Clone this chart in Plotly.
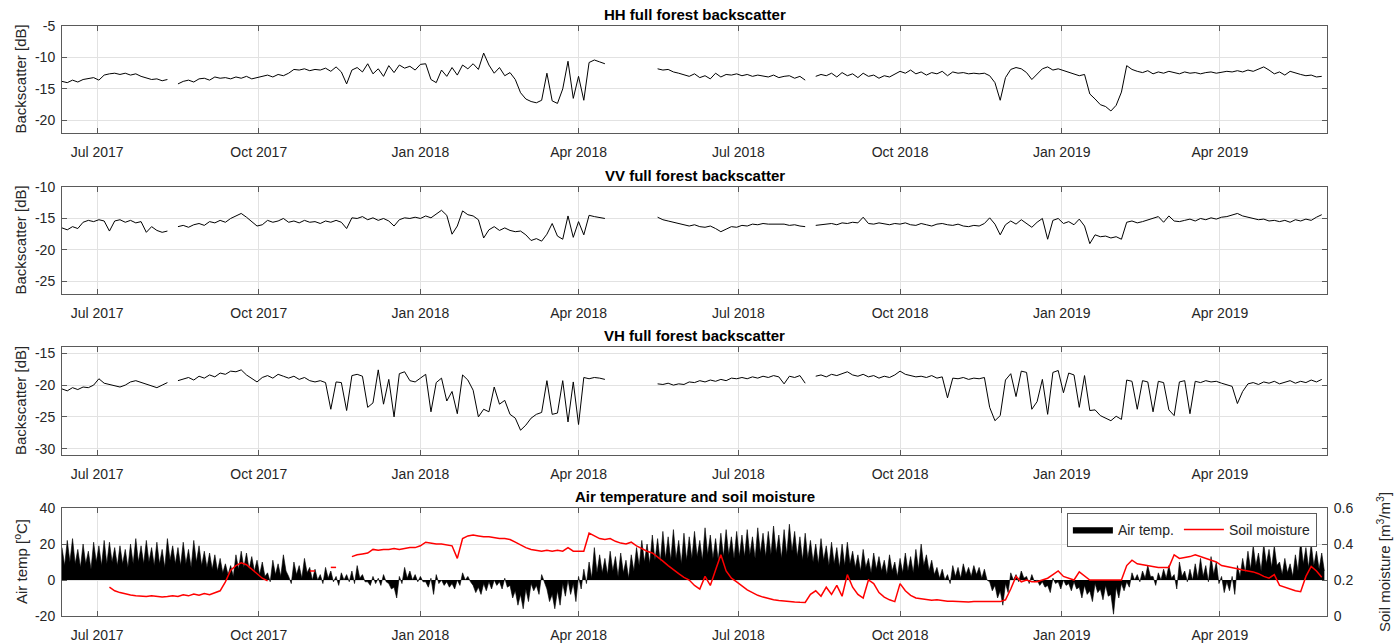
import pandas as pd
import plotly.graph_objects as go

# ---------------- data ----------------
START = "2017-06-11"
STEP_DAYS = 3
X_START = "2017-06-11"
X_END = "2019-06-01"
TICK_DATES = ["2017-07-01", "2017-10-01", "2018-01-01", "2018-04-01",
              "2018-07-01", "2018-10-01", "2019-01-01", "2019-04-01"]
TICK_LABELS = ["Jul 2017", "Oct 2017", "Jan 2018", "Apr 2018",
               "Jul 2018", "Oct 2018", "Jan 2019", "Apr 2019"]
N = None

HH = [
    -13.8, -14.0, -13.6, -13.9, -13.5, -13.4, -13.2, -13.6, -12.8, -12.6,
    -12.5, -12.7, -12.5, -12.8, -12.6, -13.0, -13.2, -13.5, -13.4, -13.7,
    -13.5, N, -14.2, -13.8, -13.6, -13.9, -13.4, -13.3, -13.6, -13.1,
    -13.3, -13.2, -13.4, -13.1, -13.3, -13.0, -13.4, -13.2, -13.0, -12.8,
    -13.1, -12.7, -12.9, -12.5, -11.9, -12.0, -11.8, -12.1, -11.9, -12.0,
    -11.7, -12.2, -11.5, -12.3, -14.2, -12.0, -11.6, -12.3, -11.0, -12.6,
    -11.8, -13.0, -11.3, -12.4, -11.2, -11.7, -11.4, -12.0, -11.1, -11.0,
    -13.5, -14.0, -12.0, -13.0, -11.6, -12.8, -11.2, -11.8, -11.0, -11.9,
    -9.3, -11.2, -12.5, -11.6, -12.9, -12.4, -13.5, -15.6, -16.6, -17.0,
    -17.2, -16.8, -12.5, -16.9, -17.3, -15.0, -10.6, -16.5, -13.0, -16.8,
    -10.8, -10.4, -10.7, -11.0, N, N, N, N, N, N,
    N, N, N, -11.8, -12.0, -11.9, -12.3, -12.5, -12.8, -13.0,
    -12.6, -13.2, -12.9, -13.4, -12.5, -13.1, -12.7, -12.8, -12.6, -12.9,
    -12.7, -13.0, -12.8, -12.9, -13.1, -12.8, -13.2, -13.0, -12.9, -13.3,
    -13.0, -13.6, N, -13.0, -12.7, -12.9, -12.5, -13.1, -12.4, -12.9,
    -12.6, -13.2, -12.5, -13.0, -12.8, -13.3, -12.9, -13.1, -12.7, -12.2,
    -12.5, -12.0, -12.6, -12.3, -12.8, -12.4, -12.6, -12.2, -12.9, -12.3,
    -12.5, -12.4, -12.6, -12.5, -12.6, -12.5, -12.9, -14.0, -16.8, -13.2,
    -11.9, -11.6, -11.8, -12.4, -13.5, -12.6, -11.8, -11.5, -12.0, -11.8,
    -12.1, -12.4, -12.6, -12.9, -12.7, -15.8, -16.6, -17.5, -17.8, -18.5,
    -17.6, -15.5, -11.3, -11.9, -12.2, -12.4, -12.1, -12.6, -12.3, -12.5,
    -12.2, -12.4, -12.6, -12.3, -12.5, -12.4, -12.6, -12.4, -12.3, -12.5,
    -12.4, -12.2, -12.3, -12.1, -12.3, -12.0, -12.2, -11.9, -11.5, -12.0,
    -12.6, -12.3, -12.8, -12.2, -12.5, -12.7, -12.9, -12.8, -13.1, -13.0,
]

VV = [
    -16.5, -16.8, -16.3, -16.6, -15.6, -15.3, -15.5, -15.2, -15.4, -17.0,
    -15.4, -15.2, -15.6, -15.3, -15.7, -15.5, -17.2, -16.3, -16.9, -17.2,
    -17.0, N, -16.3, -16.1, -16.4, -16.0, -15.8, -16.1, -15.5, -15.7,
    -15.3, -15.6, -15.0, -14.6, -14.2, -14.8, -15.5, -16.2, -16.0, -15.3,
    -15.6, -15.4, -15.0, -15.6, -15.4, -15.7, -15.3, -15.6, -15.5, -15.8,
    -15.4, -15.6, -15.3, -15.6, -16.6, -14.9, -15.0, -14.7, -15.2, -14.9,
    -15.3, -15.0, -15.4, -16.2, -15.2, -14.9, -15.0, -14.8, -15.0, -14.6,
    -14.9, -14.3, -13.7, -14.5, -17.5, -16.2, -13.8, -14.4, -14.6, -15.2,
    -18.1, -16.8, -16.3, -16.9, -16.5, -16.9, -17.1, -17.0, -17.6, -18.5,
    -18.2, -18.6, -17.5, -15.8, -17.8, -18.3, -14.6, -18.0, -15.5, -17.6,
    -14.5, -14.7, -14.9, -15.0, N, N, N, N, N, N,
    N, N, N, -14.8, -15.2, -15.4, -15.6, -15.8, -15.9, -16.2,
    -16.0, -16.3, -16.4, -16.2, -16.6, -17.1, -16.7, -16.3, -16.4, -16.1,
    -16.2, -15.9, -16.0, -15.8, -15.9, -15.9, -16.0, -15.9, -16.1, -16.0,
    -16.2, -16.3, N, -16.1, -16.0, -15.9, -15.8, -16.0, -15.7, -15.8,
    -15.6, -15.7, -14.8, -15.8, -15.9, -15.7, -15.8, -16.0, -15.8, -15.9,
    -15.7, -16.0, -16.1, -15.8, -16.0, -16.2, -15.9, -15.8, -16.0, -16.1,
    -15.9, -16.2, -16.3, -16.1, -16.2, -15.8, -14.9, -15.9, -17.6, -16.0,
    -15.4, -15.9, -15.2, -15.8, -16.4, -15.6, -15.0, -18.3, -15.3, -15.0,
    -15.8, -15.5, -16.0, -15.1, -16.2, -19.0, -17.6, -17.9, -17.8, -18.1,
    -17.9, -18.3, -15.6, -15.4, -15.7, -15.5, -15.2, -15.0, -14.7, -15.6,
    -14.6, -15.4, -15.5, -15.3, -15.1, -15.4, -15.0, -15.2, -14.9, -15.1,
    -14.8, -14.7, -14.4, -14.2, -14.6, -14.8, -15.0, -15.2, -15.1, -15.4,
    -15.3, -15.5, -15.3, -15.6, -15.2, -15.4, -15.1, -15.3, -14.8, -14.4,
]

VH = [
    -20.6, -20.9, -20.4, -20.7, -20.3, -20.4, -20.0, -19.0, -19.7, -19.9,
    -20.1, -20.3, -20.0, -19.5, -19.3, -19.6, -19.8, -20.1, -20.4, -20.0,
    -19.6, N, -19.3, -19.1, -18.8, -19.2, -18.6, -18.9, -18.4, -18.7,
    -18.1, -18.3, -17.8, -17.9, -17.6, -18.4, -19.0, -19.5, -18.8, -18.5,
    -18.9, -18.3, -18.6, -18.9, -18.6, -19.1, -18.8, -19.3, -19.5, -19.3,
    -19.6, -23.8, -19.5, -19.6, -24.0, -18.5, -18.3, -18.6, -23.5, -22.8,
    -17.6, -23.0, -19.1, -25.0, -18.2, -17.9, -19.3, -19.5, -18.9, -18.3,
    -24.2, -19.6, -18.9, -22.5, -21.0, -24.5, -18.4, -19.2, -20.8, -25.0,
    -23.8, -24.2, -20.3, -23.0, -22.4, -24.6, -25.2, -27.1, -26.3, -25.2,
    -24.6, -24.3, -19.3, -24.6, -24.4, -19.3, -25.8, -19.5, -26.2, -18.8,
    -19.0, -18.8, -18.9, -19.1, N, N, N, N, N, N,
    N, N, N, -19.8, -19.9, -19.7, -20.0, -19.8, -19.9, -19.5,
    -19.6, -19.3, -19.5, -19.2, -19.4, -19.1, -19.3, -18.9, -19.0, -18.8,
    -19.0, -18.7, -18.9, -18.6, -18.8, -18.5, -18.7, -19.8, -18.6, -18.8,
    -18.5, -19.7, N, -18.6, -18.4, -18.7, -18.3, -18.5, -18.2, -17.9,
    -18.4, -18.6, -18.3, -18.7, -18.5, -18.9, -18.6, -18.8, -18.4, -17.8,
    -18.3, -18.5, -18.7, -18.6, -18.8, -18.5, -18.9, -18.7, -22.0, -18.9,
    -19.0, -18.8, -19.1, -18.9, -19.0, -18.8, -23.5, -25.6, -24.8, -19.2,
    -18.2, -21.8, -17.8, -18.0, -23.8, -22.6, -19.1, -24.6, -18.0, -17.7,
    -21.2, -18.1, -18.4, -23.5, -18.5, -24.0, -23.9, -24.8, -25.2, -25.6,
    -24.9, -25.4, -19.2, -19.4, -23.8, -19.3, -19.5, -24.2, -19.4, -19.6,
    -23.9, -24.8, -19.5, -19.3, -24.5, -19.4, -19.6, -19.3, -19.5, -19.4,
    -19.7, -19.9, -20.2, -22.9, -21.0, -19.8, -19.6, -19.9, -19.5, -19.7,
    -19.4, -19.8, -19.5, -19.3, -19.7, -19.4, -19.6, -19.2, -19.5, -19.1,
]

TEMP_MAX = [
    18, 22, 23, 17, 20, 16, 21, 19, 22, 21,
    18, 19, 17, 20, 23, 19, 22, 18, 21, 17,
    23, 19, 18, 21, 17, 22, 19, 16, 15, 14,
    12, 9, 8, 14, 16, 15, 13, 11, 10, 4,
    11, 9, 14, 2, 10, 8, 12, 7, 6, 3,
    7, 5, 2, 4, 3, 5, 8, 3, -1, 2,
    1, 3, -2, -4, 2, 7, 5, 3, 2, -1,
    1, 3, 0, -1, -2, 0, 4, 2, -3, -4,
    -2, -1, 0, -1, 1, -3, -6, -8, -5, -2,
    -3, 3, -5, -8, -6, -2, 0, -2, 2, 6,
    10, 18, 14, 12, 16, 13, 15, 11, 14, 18,
    22, 20, 25, 23, 27, 24, 28, 22, 26, 24,
    27, 22, 29, 25, 23, 26, 28, 24, 27, 25,
    28, 24, 29, 26, 27, 30, 25, 28, 31, 27,
    24, 26, 22, 20, 23, 19, 21, 18, 20, 21,
    16, 14, 17, 12, 15, 13, 11, 14, 10, 12,
    15, 13, 17, 20, 14, 11, 7, 6, 3, 8,
    7, 9, 7, 8, 7, 6, -1, -3, -6, -2,
    4, 3, 5, 2, 3, 0, -1, -3, 1, -1,
    0, -2, -1, -4, -3, -6, -2, -5, -3, -8,
    -4, -2, -1, 4, 3, 5, 8, 2, 4, 6,
    8, 3, 10, 5, 6, 9, 12, 8, 13, 10,
    2, -1, 2, 8, 12, 16, 19, 15, 20, 17,
    19, 10, 12, 9, 14, 22, 18, 20, 16, 15,
]

TEMP_MIN = [
    8, 10, 9, 7, 9, 6, 10, 8, 9, 10,
    8, 9, 7, 9, 10, 9, 10, 8, 9, 7,
    11, 9, 8, 9, 7, 10, 8, 7, 6, 5,
    4, 3, 2, 6, 7, 6, 5, 3, 2, -1,
    3, 2, 5, -2, 3, 1, 4, 0, 0, -2,
    1, -1, -3, 0, -1, -2, 1, -1, -3, -2,
    -3, -1, -5, -10, -2, 1, 0, -1, -1, -4,
    -8, -2, -3, -4, -5, -3, 0, -1, -7, -8,
    -6, -5, -3, -5, -4, -10, -14, -16, -12, -6,
    -8, -1, -12, -16, -14, -9, -8, -12, -5, -2,
    1, 4, 4, 3, 5, 2, 4, 1, 5, 8,
    10, 9, 11, 10, 12, 11, 12, 9, 11, 12,
    13, 11, 14, 12, 11, 13, 14, 12, 13, 13,
    14, 12, 15, 13, 14, 15, 12, 14, 16, 13,
    11, 12, 10, 9, 11, 8, 9, 7, 8, 9,
    7, 5, 7, 4, 6, 5, 3, 5, 2, 4,
    5, 4, 6, 8, 5, 3, 1, 0, -2, 2,
    1, 3, 2, 3, 1, 0, -6, -10, -14, -7,
    0, -1, 1, -2, -1, -3, -4, -7, -2, -5,
    -3, -6, -5, -10, -8, -12, -7, -11, -9, -19,
    -10, -6, -4, 0, -1, 1, 2, -3, 0, 1,
    1, -5, 2, -1, 0, 1, 2, -1, 3, -2,
    -7, -6, -8, 2, 4, 6, 8, 5, 9, 7,
    8, 3, 4, 2, 5, 9, 7, 8, 6, 5,
]

SOIL = [
    N, N, N, N, N, N, N, N, N, 0.16,
    0.14, 0.13, 0.122, 0.117, 0.113, 0.11, 0.108, 0.112, 0.108, 0.106,
    0.108, 0.112, 0.108, 0.118, 0.112, 0.122, 0.115, 0.125, 0.118, 0.13,
    0.14, 0.19, 0.255, 0.28, 0.295, 0.285, 0.26, 0.235, 0.21, 0.195,
    N, N, N, N, N, N, N, 0.25, 0.25, N,
    N, 0.27, 0.27, N, N, 0.33, 0.34, 0.345, 0.35, 0.37,
    0.365, 0.37, 0.37, 0.375, 0.37, 0.375, 0.38, 0.38, 0.39, 0.41,
    0.405, 0.40, 0.40, 0.395, 0.39, 0.32, 0.43, 0.445, 0.45, 0.445,
    0.44, 0.44, 0.435, 0.43, 0.43, 0.425, 0.41, 0.395, 0.38, 0.37,
    0.365, 0.36, 0.365, 0.36, 0.365, 0.36, 0.38, 0.36, 0.36, 0.36,
    0.46, 0.445, 0.43, 0.425, 0.43, 0.415, 0.405, 0.40, 0.41, 0.39,
    0.375, 0.36, 0.35, 0.33, 0.305, 0.28, 0.255, 0.235, 0.215, 0.20,
    0.17, 0.15, 0.22, 0.17, 0.255, 0.34, 0.25, 0.21, 0.19, 0.165,
    0.145, 0.13, 0.115, 0.105, 0.097, 0.09, 0.086, 0.082, 0.08, 0.078,
    0.076, 0.075, 0.12, 0.14, 0.11, 0.16, 0.12, 0.17, 0.11, 0.23,
    0.16, 0.12, 0.10, 0.20, 0.18, 0.13, 0.105, 0.09, 0.08, 0.18,
    0.14, 0.115, 0.10, 0.095, 0.09, 0.088, 0.09, 0.085, 0.082, 0.082,
    0.08, 0.08, 0.078, 0.08, 0.08, 0.078, 0.08, 0.08, 0.08, 0.09,
    0.15, 0.22, 0.19, 0.20, 0.19, 0.19, 0.20, 0.21, 0.23, 0.25,
    0.22, 0.21, 0.20, 0.245, 0.22, 0.20, 0.20, 0.20, 0.20, 0.20,
    0.20, 0.20, 0.28, 0.31, 0.29, 0.285, 0.28, 0.275, 0.27, 0.27,
    0.27, 0.34, 0.32, 0.325, 0.33, 0.34, 0.33, 0.32, 0.31, 0.30,
    0.28, 0.275, 0.27, 0.262, 0.255, 0.25, 0.245, 0.235, 0.22, 0.21,
    0.23, 0.17, 0.16, 0.15, 0.14, 0.135, 0.22, 0.275, 0.25, 0.215,
]

for name, arr in [("HH", HH), ("VV", VV), ("VH", VH), ("TEMP_MAX", TEMP_MAX),
                  ("TEMP_MIN", TEMP_MIN), ("SOIL", SOIL)]:
    assert len(arr) == 240, (name, len(arr))

dates = pd.date_range(START, periods=len(HH), freq=f"{STEP_DAYS}D")

# air temperature drawn as an area: each sample's max followed by its min
tx, ty = [], []
for d, hi, lo in zip(dates, TEMP_MAX, TEMP_MIN):
    tx += [d, d + pd.Timedelta(hours=36)]
    ty += [hi, lo]

# ---------------- styling ----------------
FONT = "Liberation Sans, Arial, Helvetica, sans-serif"
AXC = "#5a5a5a"
GRID = "#e2e2e2"
TXT = "#262626"
H = 644.0


def dom(top_px, bot_px):
    return [1 - bot_px / H, 1 - top_px / H]


DOMS = [dom(26, 133), dom(187, 294), dom(347, 455), dom(508, 616)]

fig = go.Figure()
fig.add_trace(go.Scatter(x=dates, y=HH, mode="lines", line=dict(color="black", width=1),
                         xaxis="x", yaxis="y", showlegend=False))
fig.add_trace(go.Scatter(x=dates, y=VV, mode="lines", line=dict(color="black", width=1),
                         xaxis="x2", yaxis="y2", showlegend=False))
fig.add_trace(go.Scatter(x=dates, y=VH, mode="lines", line=dict(color="black", width=1),
                         xaxis="x3", yaxis="y3", showlegend=False))
fig.add_trace(go.Scatter(x=tx, y=ty, mode="lines", fill="tozeroy", fillcolor="black",
                         line=dict(color="black", width=0.6), name="Air temp.",
                         xaxis="x4", yaxis="y4"))
fig.add_trace(go.Scatter(x=dates, y=SOIL, mode="lines", line=dict(color="#ff0000", width=1.5),
                         name="Soil moisture", xaxis="x4", yaxis="y5"))

xcommon = dict(type="date", range=[X_START, X_END], tickvals=TICK_DATES, ticktext=TICK_LABELS,
               ticks="inside", ticklen=5, tickcolor=AXC, showline=True, linecolor=AXC,
               linewidth=1, mirror="ticks", showgrid=True, gridcolor=GRID, gridwidth=1,
               zeroline=False, tickfont=dict(size=14, color=TXT, family=FONT),
               ticklabelstandoff=6, domain=[0, 1], automargin=False)


def ycommon(rng, vals, d, mirror="ticks"):
    return dict(range=rng, tickvals=vals, ticktext=[str(v) for v in vals], domain=d,
                ticks="inside", ticklen=5, tickcolor=AXC, showline=True, linecolor=AXC,
                linewidth=1, mirror=mirror, showgrid=True, gridcolor=GRID, gridwidth=1,
                zeroline=False, tickfont=dict(size=14, color=TXT, family=FONT),
                ticklabelstandoff=3, automargin=False)


fig.update_layout(
    template="none",
    width=1397, height=644,
    margin=dict(l=62, r=70, t=0, b=0, autoexpand=False),
    paper_bgcolor="white", plot_bgcolor="white",
    font=dict(family=FONT, size=14, color=TXT),
    xaxis=dict(xcommon, anchor="y"),
    xaxis2=dict(xcommon, anchor="y2"),
    xaxis3=dict(xcommon, anchor="y3"),
    xaxis4=dict(xcommon, anchor="y4"),
    yaxis=dict(ycommon([-22, -5], [-20, -15, -10, -5], DOMS[0]), anchor="x"),
    yaxis2=dict(ycommon([-27, -10], [-25, -20, -15, -10], DOMS[1]), anchor="x2"),
    yaxis3=dict(ycommon([-31, -14], [-30, -25, -20, -15], DOMS[2]), anchor="x3"),
    yaxis4=dict(ycommon([-20, 40], [-20, 0, 20, 40], DOMS[3], mirror=False), anchor="x4"),
    yaxis5=dict(range=[0, 0.6], tickvals=[0, 0.2, 0.4, 0.6], ticktext=["0", "0.2", "0.4", "0.6"],
                overlaying="y4", side="right", anchor="x4", ticks="inside", ticklen=5,
                tickcolor=AXC, showline=True, linecolor=AXC, linewidth=1, showgrid=False,
                zeroline=False, tickfont=dict(size=14, color=TXT, family=FONT),
                ticklabelstandoff=3, automargin=False),
    legend=dict(orientation="h", x=0.992, xanchor="right", y=1 - 513 / H, yanchor="top",
                bgcolor="white", bordercolor=AXC, borderwidth=1,
                font=dict(size=14, color=TXT, family=FONT), itemwidth=40),
    showlegend=True,
)

titles = ["HH full forest backscatter", "VV full forest backscatter",
          "VH full forest backscatter", "Air temperature and soil moisture"]
for t, d in zip(titles, DOMS):
    fig.add_annotation(text=f"<b>{t}</b>", x=0.5, xref="paper", y=d[1], yref="paper",
                       xanchor="center", yanchor="bottom", yshift=1, showarrow=False,
                       font=dict(size=15, color="black", family=FONT))

ylabels = ["Backscatter [dB]", "Backscatter [dB]", "Backscatter [dB]", "Air temp [<sup>o</sup>C]"]
for t, d in zip(ylabels, DOMS):
    fig.add_annotation(text=t, x=(20 - 62) / 1265, xref="paper", y=(d[0] + d[1]) / 2,
                       yref="paper", xanchor="center", yanchor="middle", textangle=-90,
                       showarrow=False, font=dict(size=15, color=TXT, family=FONT))
fig.add_annotation(text="Soil moisture [m<sup>3</sup>/m<sup>3</sup>]", x=(1383 - 62) / 1265,
                   xref="paper", y=(DOMS[3][0] + DOMS[3][1]) / 2, yref="paper",
                   xanchor="center", yanchor="middle", textangle=-90, showarrow=False,
                   font=dict(size=15, color=TXT, family=FONT))

fig.write_html("out.html", config={"displayModeBar": False},
               post_script="document.body.style.margin='0px';document.body.style.overflow='hidden';")
